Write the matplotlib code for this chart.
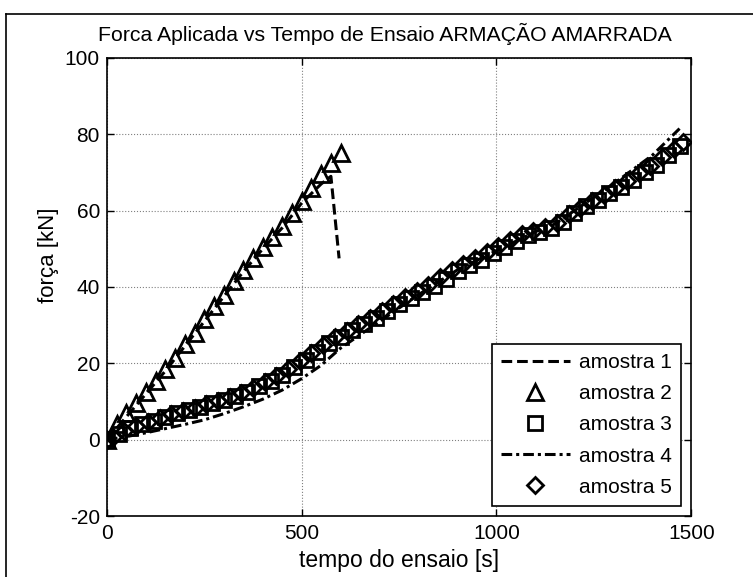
import matplotlib
matplotlib.use("Agg")
import matplotlib.pyplot as plt
from matplotlib.lines import Line2D

plt.rcParams["font.family"] = ["Liberation Sans", "DejaVu Sans"]
plt.rcParams["axes.unicode_minus"] = False

# amostra 1 (dashed line, breaks near 600 s)
t1 = [0, 50, 100, 150, 200, 250, 300, 350, 400, 450, 500, 550, 575, 596]
f1 = [0, 6, 12, 18, 24.5, 31, 37.5, 44, 50, 55.5, 62, 67, 69, 47.5]

# amostra 2 (triangles)
t2 = [0, 25, 50, 75, 100, 125, 150, 175, 200, 225, 250, 275, 300,
      325, 350, 375, 400, 425, 450, 475, 500, 525, 550, 575, 600]
f2 = [0, 4, 7, 9.5, 12.5, 15.5, 18.5, 21.5, 25, 28, 31.5, 35, 38,
      41.5, 44.5, 47.5, 50.5, 53, 56, 59.5, 62.5, 66, 69.5, 72.5, 75]

# amostra 3 (squares)
t3 = [0, 30, 60, 90, 120, 150, 180, 210, 240, 270, 300, 330, 360, 390,
      420, 450, 480, 510, 540, 570, 600, 630, 660, 690, 720, 750, 780,
      810, 840, 870, 900, 930, 960, 990, 1020, 1050, 1080, 1110, 1140,
      1170, 1200, 1230, 1260, 1290, 1320, 1350, 1380, 1410, 1440, 1470]
f3 = [0.3, 1.5, 3, 4, 5, 6, 7, 7.8, 8.6, 9.5, 10.5, 11.5, 12.5, 14,
      15.5, 17, 19, 21, 23, 25.2, 27, 28.7, 30.3, 32, 33.8, 35.5, 37.2,
      38.8, 40.2, 42.2, 44.2, 45.8, 47.2, 48.8, 50.5, 52, 53.5, 54.5, 55.5,
      57, 59.5, 61.2, 62.8, 64.5, 66.2, 68, 70, 72, 74.5, 77]

# amostra 4 (dash-dot line)
t4 = [0, 50, 100, 150, 200, 250, 300, 350, 400, 450, 500, 550, 600,
      700, 800, 900, 1000, 1100, 1150, 1200, 1300, 1400, 1470]
f4 = [0, 0.8, 1.8, 2.9, 4, 5.2, 6.8, 8.6, 10.6, 13, 16, 19.5, 24,
      31, 38, 44.5, 49.5, 54.5, 56.5, 60, 67, 74.5, 81.5]

# amostra 5 (diamonds)
t5 = [0, 15, 45, 75, 105, 135, 165, 195, 225, 255, 285, 315, 345, 375,
      405, 435, 465, 495, 525, 555, 585, 615, 645, 675, 705, 735, 765,
      795, 825, 855, 885, 915, 945, 975, 1005, 1035, 1065, 1095, 1125,
      1155, 1185, 1215, 1245, 1275, 1305, 1335, 1365, 1395, 1425, 1455, 1480]
f5 = [0, 0.8, 2.4, 3.6, 4.7, 5.7, 6.7, 7.6, 8.4, 9.3, 10.2, 11.3, 12.3, 13.6,
      15.2, 16.8, 18.6, 20.6, 22.6, 24.8, 26.8, 28.5, 30.2, 32, 33.8, 35.6, 37.4,
      39, 40.6, 42.5, 44.5, 46, 47.6, 49.2, 50.8, 52.3, 53.8, 54.8, 55.6,
      56.8, 59, 60.8, 62.5, 64.2, 66, 67.8, 69.8, 71.8, 74, 76.2, 78]

XTICKS = [0, 500, 1000, 1500]
YTICKS = [-20, 0, 20, 40, 60, 80, 100]

fig = plt.figure(figsize=(7.53, 5.77), dpi=100)
ax = fig.add_axes([0.142, 0.1057, 0.776, 0.7938])

ax.plot(t1, f1, color="black", linestyle=(0, (3.5, 1.6)), linewidth=2.2, label="amostra 1")
ax.plot(t2, f2, linestyle="none", marker="^", markersize=11, markerfacecolor="none",
        markeredgecolor="black", markeredgewidth=2, label="amostra 2")
ax.plot(t3, f3, linestyle="none", marker="s", markersize=9.5, markerfacecolor="none",
        markeredgecolor="black", markeredgewidth=2, label="amostra 3")
ax.plot(t4, f4, color="black", linestyle=(0, (3.5, 1.3, 1, 1.3)), linewidth=2.2, label="amostra 4")
ax.plot(t5, f5, linestyle="none", marker="D", markersize=8.5, markerfacecolor="none",
        markeredgecolor="black", markeredgewidth=2, label="amostra 5")

ax.set_xlim(0, 1500)
ax.set_ylim(-20, 100)
ax.set_xticks(XTICKS)
ax.set_yticks(YTICKS)
ax.tick_params(direction="in", length=5, width=1, top=True, right=True, labelsize=15)
ax.tick_params(axis="y", pad=5)
ax.tick_params(axis="x", pad=6)
ax.grid(True, color="#808080", linestyle=":", linewidth=0.8)
for s in ax.spines.values():
    s.set_linewidth(1.2)

ax.set_title("Forca Aplicada vs Tempo de Ensaio ARMAÇÃO AMARRADA", fontsize=15.3,
             x=0.475, pad=12)
ax.set_xlabel("tempo do ensaio [s]", fontsize=16.5, labelpad=4)
ax.set_ylabel("força [kN]", fontsize=16)
ax.yaxis.set_label_coords(-0.082, 0.57)

leg = ax.legend(loc="lower right", bbox_to_anchor=(1, 0), borderaxespad=0.48, fontsize=15,
                frameon=True, fancybox=False, framealpha=1, edgecolor="black",
                handlelength=3.3, numpoints=1, borderpad=0.45, labelspacing=0.58,
                handletextpad=0.45)
leg.get_frame().set_linewidth(1.2)

# page frame around the figure (left and top edges)
fig.add_artist(Line2D([6 / 753, 6 / 753], [0, 1 - 14 / 577], color="black", linewidth=1.2))
fig.add_artist(Line2D([6 / 753, 1], [1 - 14 / 577, 1 - 14 / 577], color="black", linewidth=1.2))

fig.savefig("out.png", dpi=100)
